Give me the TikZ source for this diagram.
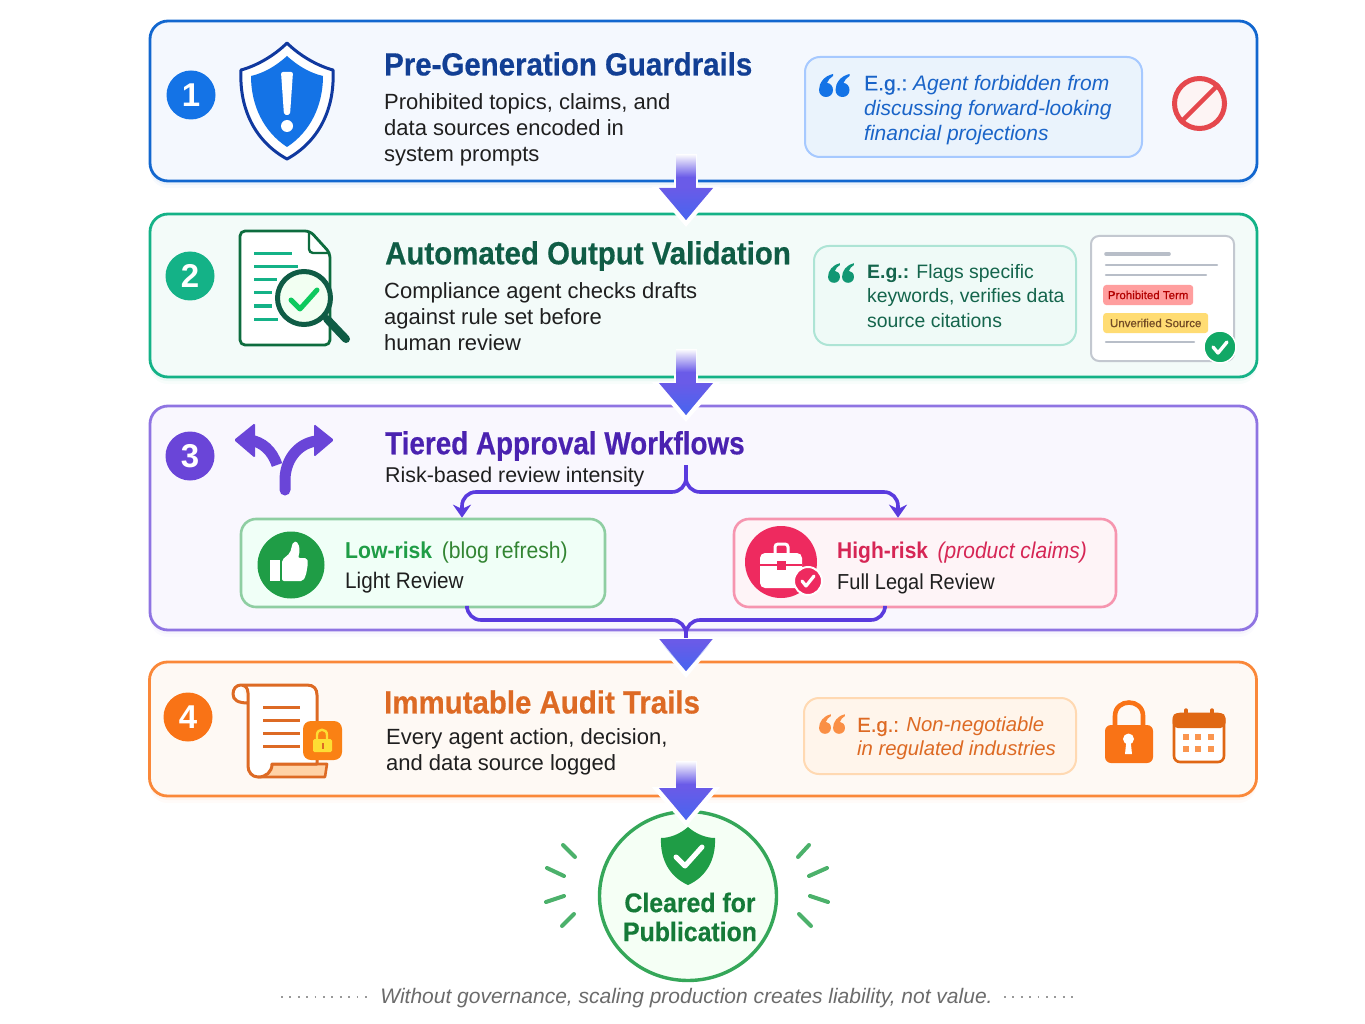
\documentclass[tikz,border=0pt]{standalone}
\usepackage{fontspec}
\setmainfont{Liberation Sans}
\newfontfamily\headfont[FakeStretch=.92]{Liberation Sans}
\newfontfamily\titlefont[FakeStretch=.92,FakeBold=.5]{Liberation Sans Bold}
\newfontfamily\tightfont[FakeStretch=.87,FakeBold=.5]{Liberation Sans Bold}
\newfontfamily\egfont[FakeBold=.6]{Liberation Sans}
\newfontfamily\tagfont[FakeBold=.6]{Liberation Sans}
\usetikzlibrary{arrows.meta,calc,fadings,shadows,shapes.geometric}
\definecolor{bluemain}{HTML}{1473E6}
\definecolor{bluedark}{HTML}{123F94}
\definecolor{bluetext}{HTML}{1A64C8}
\definecolor{bluepanel}{HTML}{F4F8FE}
\definecolor{bluenote}{HTML}{EAF3FC}
\definecolor{greenmain}{HTML}{14B287}
\definecolor{greendark}{HTML}{0F5C45}
\definecolor{greentext}{HTML}{14654C}
\definecolor{greenpanel}{HTML}{F3FBF9}
\definecolor{purplemain}{HTML}{6A45D8}
\definecolor{purpledark}{HTML}{4A22B0}
\definecolor{purplepanel}{HTML}{F9F7FE}
\definecolor{orangemain}{HTML}{F97316}
\definecolor{orangeline}{HTML}{DD6A24}
\definecolor{orangepanel}{HTML}{FEF9F4}
\definecolor{leafgreen}{HTML}{1F9D46}
\definecolor{leafdark}{HTML}{157A38}
\definecolor{crimson}{HTML}{EE2A5F}
\definecolor{flowviolet}{HTML}{6A5BE8}
\definecolor{flowblue}{HTML}{4766F0}
\definecolor{cardgray}{HTML}{B8BEC8}
\definecolor{cardgreen}{HTML}{12A866}
\definecolor{stopred}{HTML}{E5484D}
\tikzset{
  panel/.style 2 args={draw=#1, fill=#2, line width=2.8pt, rounded corners=18pt, inner sep=0pt,
    general shadow={shadow yshift=-7pt, fill=#1, opacity=.03},
    general shadow={shadow yshift=-4pt, fill=#1, opacity=.05}},
  callout/.style 2 args={draw=#1, fill=#2, line width=2pt, rounded corners=15pt, inner sep=0pt},
  badge/.style={circle, fill=#1, text=white, inner sep=0pt, minimum size=49pt,
    font=\fontsize{33}{33}\selectfont\bfseries},
  headline/.style={anchor=west, inner sep=0pt, text=#1, font=\fontsize{32}{32}\selectfont\titlefont},
  bodytext/.style={anchor=north west, inner sep=0pt, align=left, text=black!88,
    font=\fontsize{22}{26.2}\selectfont},
  notetext/.style={anchor=north west, inner sep=0pt, align=left, text=#1,
    font=\fontsize{21}{24.8}\selectfont},
  tag/.style 2 args={fill=#1, text=#2, rounded corners=3pt, inner sep=0pt, anchor=west,
    font=\fontsize{11.5}{12}\selectfont\tagfont},
  cardline/.style={draw=cardgray, line width=#1, line cap=round},
  tickline/.style={draw=white, line width=#1, line cap=round, line join=round},
  branch/.style={draw=purplemain!85!blue, line width=3.6pt, rounded corners=14pt},
  flowhalo/.style={draw=white, line width=24pt, shorten >=-7pt,
    -{Triangle[length=40pt,width=66pt]}},
  flowshaft/.style={draw=flowviolet, line width=20pt,
    -{Triangle[length=32pt,width=52pt,fill=flowviolet]}},
  ray/.style={draw=leafgreen!80!white, line width=4pt, line cap=round},
  pics/quotemark/.style={code={
    \foreach \qx in {0,16.5}
      \fill[pic actions, xshift=\qx pt] (7,-15) .. controls (-2,-13) and (-7,-6) .. (-7,1)
        .. controls (-7,5) and (-4,8) .. (0,8) .. controls (4,8) and (7,5) .. (7,1)
        .. controls (7,-3) and (4,-6) .. (1,-6) .. controls (2,-9) and (4,-11) .. (7,-13) -- cycle;
  }}
}
\begin{document}
\begin{tikzpicture}[x=1pt, y=-1pt]
  \useasboundingbox (0,0) rectangle (1365,1024);
  % Place panels
  \node[panel={bluemain!90!black}{bluepanel},     minimum width=1107pt, minimum height=160pt] (guard) at (703.5,101) {};
  \node[panel={greenmain}{greenpanel},            minimum width=1107pt, minimum height=163pt] (valid) at (703.5,295.5) {};
  \node[panel={purplemain!75!white}{purplepanel}, minimum width=1107pt, minimum height=224pt] (tiers) at (703.5,518) {};
  \node[panel={orangemain!85!white}{orangepanel}, minimum width=1107pt, minimum height=134pt] (audit) at (703,729) {};
  % Number badges
  \node[badge=bluemain]   (one)   at (191,95)  {1};
  \node[badge=greenmain]  (two)   at (190,276) {2};
  \node[badge=purplemain] (three) at (190,456) {3};
  \node[badge=orangemain] (four)  at (188,717) {4};
  % Titles and text
  \node[headline=bluedark]   (guardtitle) at (384,64)  {Pre-Generation Guardrails};
  \node[headline=greendark]  (validtitle) at (385,256) {Automated Output Validation};
  \node[headline=purpledark, font=\fontsize{32}{32}\selectfont\tightfont] (tierstitle) at (385,446) {Tiered Approval Workflows};
  \node[headline=orangeline] (audittitle) at (384,702) {Immutable Audit Trails};
  \node[bodytext] (guardbody) at (384,93)  {Prohibited topics, claims, and\\data sources encoded in\\system prompts};
  \node[bodytext] (validbody) at (384,282) {Compliance agent checks drafts\\against rule set before\\human review};
  \node[bodytext, font=\fontsize{21.4}{26}\selectfont] (tiersbody) at (385,467) {Risk-based review intensity};
  \node[bodytext] (auditbody) at (386,728) {Every agent action, decision,\\and data source logged};
  % Shield
  \draw[draw=bluedark!90!blue, fill=white, line width=3pt, line join=round]
    (287,43) .. controls (300,56) and (318,66) .. (333,70) .. controls (335,110) and (318,142) .. (287,159)
    .. controls (256,142) and (239,110) .. (241,70) .. controls (256,66) and (274,56) .. (287,43) -- cycle;
  \fill[bluemain] (287,56) .. controls (298,66) and (310,73) .. (323,76) .. controls (323,106) and (310,132) .. (287,147)
    .. controls (264,132) and (251,106) .. (251,76) .. controls (264,73) and (276,66) .. (287,56) -- cycle;
  \fill[white, rounded corners=2pt] (281,72) -- (293,72) -- (290,115) -- (284,115) -- cycle;
  \fill[white] (287,126) circle (6);
  % Forbidden sign
  \node[circle, draw=stopred, fill=stopred!6!white, line width=5pt, minimum size=50pt, inner sep=0pt] (forbid) at (1199.5,103.5) {};
  \draw[draw=stopred, line width=4.5pt] (forbid.north east) -- (forbid.south west);
  % Notes
  \node[callout={blue!60!cyan!35!white}{bluenote}, minimum width=337pt, minimum height=100pt] (guardnote) at (973.5,107) {};
  \pic[fill=bluemain] (guardquote) at (826,89) {quotemark};
  \node[notetext=bluetext] (guardtext) at (864,75) {{\egfont E.g.:}\hspace{-2pt} \textit{Agent forbidden from}\\\textit{discussing forward-looking}\\\textit{financial projections}};
  \node[callout={greenmain!35!white}{greenmain!7!white}, minimum width=262pt, minimum height=99pt] (validnote) at (945,295.5) {};
  \pic[fill=greenmain!85!black, scale=.85] (validquote) at (834,276) {quotemark};
  \node[notetext=greentext, font=\fontsize{19.4}{24.2}\selectfont] (validtext) at (867,264.5) {\textbf{E.g.:} Flags specific\\keywords, verifies data\\source citations};
  \node[callout={orange!30!white}{orange!8!white}, minimum width=272pt, minimum height=76pt] (auditnote) at (940,736) {};
  \pic[fill=orangemain!80!white, scale=.85] (auditquote) at (825,727) {quotemark};
  \node[notetext=orangeline, font=\fontsize{20.3}{24}\selectfont] (audittext) at (857,717) {{\egfont E.g.:} \textit{Non-negotiable}\\\textit{in regulated industries}};
  % Document with magnifier
  \draw[draw=greendark!90!green, fill=white, line width=2.8pt, rounded corners=5pt, line join=round]
    (240,231) -- (310,231) -- (330,253) -- (330,345) -- (240,345) -- cycle;
  \draw[draw=greendark!90!green, line width=2.4pt, rounded corners=4pt] (309,231) -- (309,253) -- (330,253);
  \foreach \liney/\lineend in {254/292,267/298,280/277,293/272,306/272,319/278}
    \draw[draw=greenmain, line width=3pt] (254,\liney) -- (\lineend,\liney);
  \draw[draw=greendark, line width=8pt, line cap=round] (327,319) -- (346,339);
  \node[circle, draw=greendark, fill=green!5!white, line width=5pt, minimum size=53pt, inner sep=0pt] (lens) at (304,298) {};
  \draw[tickline=5pt, draw=greenmain!70!green] (291,300) -- (300,309) -- (317,290);
  % Review card
  \node[draw=cardgray!85!white, fill=white, line width=2pt, rounded corners=8pt, minimum width=143pt, minimum height=125pt] (card) at (1162.5,298.5) {};
  \draw[cardline=3.6pt] (1106,254) -- (1169,254);
  \draw[cardline=2.4pt] (1106,265) -- (1217,265);
  \draw[cardline=2.4pt] (1106,275) -- (1206,275);
  \draw[cardline=2.4pt] (1106,342) -- (1194,342);
  \node[tag={red!30!pink!80!white}{red!70!black}, minimum width=90pt, minimum height=20pt] (prohibited) at (1103,295) {Prohibited Term};
  \node[tag={orange!50!yellow!55!white}{brown!60!black}, minimum width=105pt, minimum height=20pt] (unverified) at (1103,323) {Unverified Source};
  \node[circle, draw=white, fill=cardgreen, line width=1.5pt, minimum size=32pt, inner sep=0pt] (cardok) at (1220,347) {};
  \draw[tickline=3.4pt] (1213,347) -- (1218,353) -- (1227,342);
  % Fork icon
  \draw[draw=purplemain, line width=11pt, line cap=round] (285,490) -- (285,480) .. controls (285,462) and (296,444) .. (316,441);
  \fill[purplemain, rounded corners=1.5pt] (334,440) -- (314,424) -- (314,457) -- cycle;
  \draw[draw=purplemain, line width=11pt] (250,440) .. controls (262,442) and (272,450) .. (277,465);
  \fill[purplemain, rounded corners=1.5pt] (234,440) -- (255,423) -- (255,458) -- cycle;
  % Review boxes
  \node[callout={leafgreen!50!white}{green!50!cyan!6!white}, line width=2.6pt, minimum width=364pt, minimum height=88pt] (low) at (423,563) {};
  \node[callout={crimson!50!white}{crimson!5!white}, line width=2.6pt, minimum width=382pt, minimum height=88pt] (high) at (925,563) {};
  \node[circle, fill=leafgreen, minimum size=67pt, inner sep=0pt] (thumb) at (291,565) {};
  \fill[white] (270,560) rectangle (280,581);
  \fill[white, rounded corners=2pt] (282,560) -- (290,553) -- (293,542) .. controls (298,541) and (301,548) .. (298,558) -- (307,558) -- (308,563) -- (306,575) -- (303,581) -- (282,581) -- cycle;
  \node[circle, fill=crimson, minimum size=72pt, inner sep=0pt] (brief) at (781,562) {};
  \draw[draw=white, line width=3pt, rounded corners=3pt] (775,554) -- (775,544) -- (788,544) -- (788,554);
  \fill[white, rounded corners=5pt] (760,553) rectangle (802,588);
  \draw[draw=crimson, line width=2pt] (760,565) -- (802,565);
  \fill[crimson] (777,561) rectangle (786,570);
  \node[circle, draw=white, fill=crimson, line width=2pt, minimum size=28pt, inner sep=0pt] (briefok) at (808,581) {};
  \draw[tickline=3.2pt] (802,581) -- (806,586) -- (814,576);
  \node[anchor=west, inner sep=0pt, font=\fontsize{23}{24}\selectfont] (lowhead) at (345,553) {\textcolor{leafgreen}{\headfont\bfseries Low-risk}\textcolor{green!40!black!80!white}{\headfont\ \,(blog refresh)}};
  \node[anchor=west, inner sep=0pt, text=black!88, font=\fontsize{22.5}{24}\selectfont\headfont] (lowbody) at (345,583) {Light Review};
  \node[anchor=west, inner sep=0pt, font=\fontsize{22.8}{24}\selectfont] (highhead) at (837,553) {\textcolor{crimson!90!black}{\headfont\bfseries High-risk}\textcolor{crimson!90!black}{\headfont\ \,\itshape(product claims)}};
  \node[anchor=west, inner sep=0pt, text=black!88, font=\fontsize{21.7}{24}\selectfont\headfont] (highbody) at (837,584) {Full Legal Review};
  % Create edges
  \coordinate (split)  at (686,465);
  \coordinate (merge)  at (686,642);
  \draw[branch, -{Stealth[length=13pt,width=18pt]}] (split) -- (686,492) -- (462,492) -- (low.north -| 462,0);
  \draw[branch, -{Stealth[length=13pt,width=18pt]}] (split) -- (686,492) -- (898,492) -- (high.north -| 898,0);
  \draw[branch] (low.south -| 467,0) -- (467,620) -- (686,620) -- (merge);
  \draw[branch] (high.south -| 885,0) -- (885,620) -- (686,620) -- (merge);
  % Scroll
  \draw[draw=orangeline, fill=orange!35!white, line width=2.6pt, line join=round] (262,764) -- (327,764) -- (325,777) -- (258,777) -- cycle;
  \draw[draw=orangeline, fill=white, line width=3pt, line join=round]
    (241,685) -- (307,685) .. controls (314,685) and (317,689) .. (317,695) -- (317,764) -- (272,764)
    .. controls (272,772) and (266,777) .. (258,777) .. controls (252,777) and (248,772) .. (248,766) -- (248,693)
    .. controls (248,688) and (245,685) .. (241,685) .. controls (236,685) and (233,689) .. (233,694) .. controls (233,700) and (238,703) .. (248,703);
  \foreach \liney in {707,720,733,746}
    \draw[draw=orangeline, line width=3pt] (263,\liney) -- (300,\liney);
  \node[fill=orangemain!90!yellow, rounded corners=8pt, minimum size=39pt, inner sep=0pt] (seal) at (322.5,740.5) {};
  \fill[yellow!75!orange!80!white, rounded corners=1.5pt] (313,739) rectangle (332,752);
  \draw[draw=yellow!75!orange!80!white, line width=2.4pt] (317,739) -- (317,735) .. controls (317,728) and (327,728) .. (327,735) -- (327,739);
  \fill[orangeline] (321.5,743) rectangle (323.5,749);
  % Padlock and calendar
  \draw[draw=orangemain, line width=4.6pt] (1115,728) -- (1115,716) .. controls (1115,698) and (1143,698) .. (1143,716) -- (1143,728);
  \node[fill=orangemain, rounded corners=6pt, minimum width=48pt, minimum height=38pt, inner sep=0pt] (padlock) at (1129,744) {};
  \fill[white] (1128.5,739) circle (5.5);
  \fill[white] (1126.5,740) -- (1130.5,740) -- (1132,754) -- (1125,754) -- cycle;
  \node[draw=orangemain!90!black, fill=white, line width=2.6pt, rounded corners=6pt, minimum width=50pt, minimum height=48pt, inner sep=0pt] (calendar) at (1199,738) {};
  \fill[orangemain!90!black, rounded corners=5pt] (1172.5,713) rectangle (1225.5,728);
  \foreach \ringx in {1186,1212}
    \draw[draw=orangemain!90!black, line width=3.4pt, line cap=round] (\ringx,710) -- (\ringx,720);
  \foreach \cellx in {1186,1198,1211}
    \foreach \celly in {737,749}
      \fill[orangemain!75!white] (\cellx-3,\celly-3) rectangle (\cellx+3,\celly+3);
  % Result
  \node[ellipse, draw=leafgreen!90!white, fill=green!4!white, line width=3.4pt, minimum width=177pt, minimum height=169pt, inner sep=0pt] (cleared) at (688,896) {};
  \fill[leafgreen] (688,827) .. controls (696,834) and (706,838) .. (715,838) .. controls (716,860) and (706,877) .. (688,885)
    .. controls (670,877) and (660,860) .. (661,838) .. controls (670,838) and (680,834) .. (688,827) -- cycle;
  \draw[tickline=5pt] (676,857) -- (685,866) -- (702,847);
  \node[inner sep=0pt, align=center, text=leafdark, font=\fontsize{27}{29}\selectfont\titlefont] (clearedtext) at (690,917) {Cleared for\\Publication};
  \foreach \rx/\ry/\sx/\sy in {563/845/575/857, 547/868/564/876, 546/902/564/896, 562/926/574/914,
                               809/845/798/857, 827/868/809/876, 828/902/810/896, 811/926/799/914}
    \draw[ray] (\rx,\ry) -- (\sx,\sy);
  % Block arrows
  \coordinate (flowa) at (686,155);
  \coordinate (tipa)  at (686,220);
  \coordinate (flowb) at (686,350);
  \coordinate (tipb)  at (686,415);
  \coordinate (tipc)  at (686,671);
  \coordinate (flowd) at (686,762);
  \coordinate (tipd)  at (686,820);
  \foreach \from/\to in {flowa/tipa, flowb/tipb, flowd/tipd} {
    \draw[flowhalo] ($(\from)+(0,24)$) -- (\to);
    \draw[flowshaft] (\from) -- (\to);
    \fill[white, path fading=south] ($(\from)+(-10.5,-1)$) rectangle ($(\from)+(10.5,22)$);
    \fill[flowblue, path fading=north] ($(\to)+(-26,-32)$) -- ($(\to)+(26,-32)$) -- (\to) -- cycle;
  }
  \draw[flowhalo, line width=6pt] (merge) -- (tipc);
  \draw[flowshaft, line width=6pt] (merge) -- (tipc);
  \fill[flowblue, path fading=north] ($(tipc)+(-26,-29)$) -- ($(tipc)+(26,-29)$) -- (tipc) -- cycle;
  % Closing line
  \node[inner sep=0pt, text=black!58, font=\fontsize{21}{24}\selectfont\itshape] (closing) at (686.5,998) {Without governance, scaling production creates liability, not value.};
  \draw[draw=black!40, line width=1.8pt, dash pattern=on 1.8pt off 6.6pt] (281,997) -- (367,997);
  \draw[draw=black!40, line width=1.8pt, dash pattern=on 1.8pt off 6.6pt] (1004,997) -- (1076,997);
\end{tikzpicture}
\end{document}
